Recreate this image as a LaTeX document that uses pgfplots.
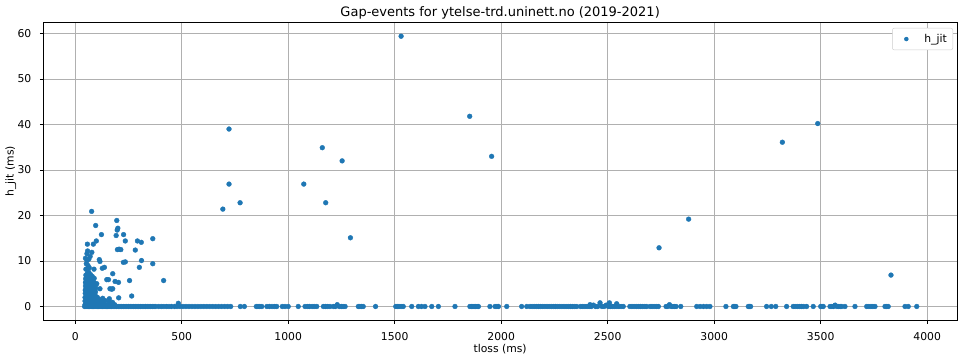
\documentclass[border=0pt]{standalone}
\usepackage{fontspec}
\setmainfont{DejaVu Sans}
\usepackage{pgfplots}
\pgfplotsset{compat=1.18}

\definecolor{c0}{HTML}{1F77B4}
\definecolor{gridgray}{HTML}{B0B0B0}
\definecolor{legframe}{HTML}{CCCCCC}

\begin{document}
\begin{tikzpicture}
\useasboundingbox (-43.3pt,-39pt) rectangle (915.7pt,320pt);
\begin{axis}[
  at={(0pt,0pt)}, anchor=south west,
  width=913.7pt, height=297.3pt, scale only axis,
  xmin=-150, xmax=4140, ymin=-2.97, ymax=62.37,
  xtick={0,500,...,4000}, ytick={0,10,...,60},
  /pgf/number format/.cd, 1000 sep={}, assume math mode=true, /pgfplots/.cd,
  grid=major, major grid style={color=gridgray, line width=0.8pt},
  axis line style={line width=0.8pt, black},
  tick pos=left, tick align=outside, major tick length=3.5pt,
  tick style={line width=0.8pt, black},
  tick label style={font=\fontsize{10.8}{13}\selectfont},
  xticklabel style={anchor=base, inner sep=0pt, yshift=-17.3pt},
  yticklabel style={anchor=east, inner sep=0pt, xshift=-8.3pt},
  title={Gap-events for ytelse-trd.uninett.no (2019-2021)},
  title style={at={(axis description cs:0.5,1)}, anchor=base, inner sep=0pt, yshift=0.2pt, font=\fontsize{13}{15}\selectfont},
  xlabel={tloss (ms)},
  xlabel style={at={(axis description cs:0.5,0)}, anchor=base, inner sep=0pt, yshift=-32pt, font=\fontsize{10.8}{13}\selectfont},
  ylabel={h\_jit (ms)},
  ylabel style={at={(axis description cs:-0.0325,0.5)}, anchor=base, inner sep=0pt, font=\fontsize{10.8}{13}\selectfont},
  legend style={at={(axis description cs:1,1)}, anchor=north east, xshift=-4pt, yshift=-5.3pt,
    draw=legframe, rounded corners=2pt, fill=white, font=\fontsize{10.8}{13}\selectfont,
    inner xsep=4pt, inner ysep=4pt},
  legend image code/.code={\path[draw=none, fill=none] (0pt,-3pt) rectangle (26pt,3pt);
    \draw[#1, mark size=2pt] plot coordinates {(10pt,0pt)};},
]
\addplot[only marks, mark=*, mark size=2.4pt, color=c0, mark options={draw=c0, fill=c0}] coordinates {
% high outliers
(1530,59.4) (1852,41.8) (1955,33.0) (722,39.0) (722,26.9) (693,21.4) (774,22.8)
(1160,34.9) (1253,32.0) (1073,26.9) (1176,22.8) (1292,15.1)
(3320,36.1) (3486,40.2) (2741,12.9) (2880,19.2) (3830,6.9)
% short-loss cluster, upper part
(50,8.2) (52,9.4) (55,10.1) (55,11.6) (57,13.7) (60,9.0) (66,8.5) (70,11.0) (78,11.9)
(85,13.7) (88,8.2) (77,20.9) (96,17.8) (99,14.4) (113,10.3) (116,9.9) (123,15.8)
(127,8.4) (137,8.6) (101,5.0) (116,3.9) (48,10.6) (64,10.4) (58,12.2)
(148,5.9) (156,5.9) (163,3.9) (171,3.8) (176,3.9) (176,7.2) (187,5.5) (195,18.9)
(197,16.8) (200,17.2) (192,15.6) (203,5.3) (204,1.9) (198,12.5) (206,12.6) (214,12.5)
(227,15.8) (226,9.7) (235,9.8) (235,14.4) (255,5.7) (265,2.3) (282,12.4) (292,14.4)
(301,8.6) (310,14.1) (311,10.1) (364,14.9) (364,9.4) (415,5.7) (484,0.7)
% short-loss cluster, dense column
(46,0.4) (46,1.2) (46,2.0) (47,2.9) (47,3.6) (48,4.5) (48,5.3) (49,6.1) (50,6.9)
(53,0.8) (53,1.6) (54,2.5) (54,3.3) (55,4.1) (55,4.9) (56,5.7) (56,6.5) (57,7.3)
(60,0.3) (60,1.1) (61,1.9) (61,2.7) (62,3.5) (62,4.3) (63,5.1) (63,5.9) (64,6.7) (64,7.5)
(68,0.6) (68,1.4) (69,2.2) (69,3.0) (70,3.8) (70,4.6) (71,5.4) (71,6.2) (72,7.0)
(76,0.9) (76,1.7) (77,2.5) (77,3.3) (78,4.1) (78,4.9) (79,5.7) (80,6.6)
(84,0.5) (84,1.3) (85,2.1) (85,2.9) (86,3.7) (87,4.5) (88,5.3) (89,6.2)
(92,0.8) (93,1.6) (94,2.4) (95,3.2) (96,4.0) (97,4.8)
(104,0.5) (104,1.2) (104,2.0) (110,0.7) (115,1.5) (120,0.4) (125,1.0) (129,0.5)
(129,1.2) (129,1.8) (135,0.6) (140,1.3) (148,0.4) (160,0.5) (160,1.1) (160,1.7)
(168,0.6) (175,0.9) (185,0.4)
% zero-jitter events
(44,0) (50,0) (56,0) (62,0) (68,0) (74,0) (80,0) (86,0) (92,0) (98,0) (104,0) (110,0)
(116,0) (122,0) (128,0) (134,0) (140,0) (146,0) (152,0) (158,0) (164,0) (170,0) (178,0)
(186,0) (194,0) (202,0) (210,0) (218,0) (226,0) (234,0) (242,0) (250,0) (258,0) (266,0)
(274,0) (282,0) (290,0) (298,0) (306,0) (314,0) (322,0) (330,0) (338,0) (346,0) (354,0)
(362,0) (370,0) (378,0)
(392,0) (404,0) (416,0) (428,0) (440,0) (452,0) (466,0) (478,0) (492,0) (506,0) (520,0)
(534,0) (548,0) (562,0) (576,0) (590,0) (604,0) (618,0) (632,0) (646,0) (660,0) (674,0)
(688,0) (702,0) (716,0) (730,0)
(775,0) (794,0) (850,0) (858,0) (866,0) (876,0) (900,0) (912,0) (924,0) (936,0) (946,0)
(972,0) (985,0) (1000,0) (1047,0) (1079,0) (1090,0) (1100,0) (1112,0) (1122,0) (1134,0)
(1165,0) (1175,0) (1185,0) (1196,0) (1212,0) (1222,0) (1230,0.4) (1240,0) (1250,0)
(1258,0) (1267,0) (1329,0) (1336,0) (1344,0) (1352,0) (1410,0)
(1505,0) (1512,0) (1520,0) (1530,0) (1540,0) (1580,0) (1611,0) (1626,0) (1642,0)
(1674,0) (1705,0) (1783,0) (1853,0) (1860,0) (1867,0) (1873,0) (1880,0) (1887,0)
(1893,0) (1947,0) (1971,0) (1980,0) (1987,0) (2026,0) (2096,0) (2120,0)
(2135,0) (2145,0) (2155,0) (2165,0) (2175,0) (2185,0) (2195,0) (2205,0) (2215,0)
(2225,0) (2235,0) (2245,0) (2255,0) (2265,0) (2275,0) (2285,0) (2295,0) (2305,0)
(2315,0) (2325,0) (2335,0) (2345,0) (2355,0)
(2373,0) (2383,0) (2393,0) (2403,0) (2413,0) (2417,0.4) (2423,0) (2433,0.3) (2443,0)
(2453,0) (2464,0.8) (2473,0) (2483,0) (2493,0.3) (2503,0) (2508,0.8) (2513,0) (2523,0)
(2533,0) (2542,0.6) (2543,0) (2553,0) (2563,0) (2573,0)
(2604,0) (2614,0) (2624,0) (2634,0) (2644,0) (2654,0) (2664,0) (2674,0) (2683,0)
(2699,0) (2708,0) (2718,0) (2728,0) (2738,0) (2774,0) (2782,0) (2790,0.4) (2798,0)
(2806,0) (2814,0) (2821,0) (2843,0) (2918,0) (2934,0) (2950,0) (2965,0) (2980,0)
(3055,0) (3090,0) (3096,0) (3102,0) (3160,0) (3166,0) (3171,0) (3246,0) (3268,0)
(3289,0) (3340,0) (3371,0) (3380,0) (3390,0) (3400,0) (3410,0) (3420,0) (3434,0)
(3465,0) (3500,0) (3506,0) (3512,0) (3544,0) (3552,0) (3560,0) (3568,0.3) (3576,0)
(3584,0) (3592,0) (3599,0) (3614,0) (3661,0) (3716,0) (3726,0) (3736,0) (3745,0)
(3755,0) (3802,0) (3810,0) (3817,0) (3896,0) (3911,0) (3951,0)
};
\addlegendentry{h\_jit}
\end{axis}
\end{tikzpicture}
\end{document}
